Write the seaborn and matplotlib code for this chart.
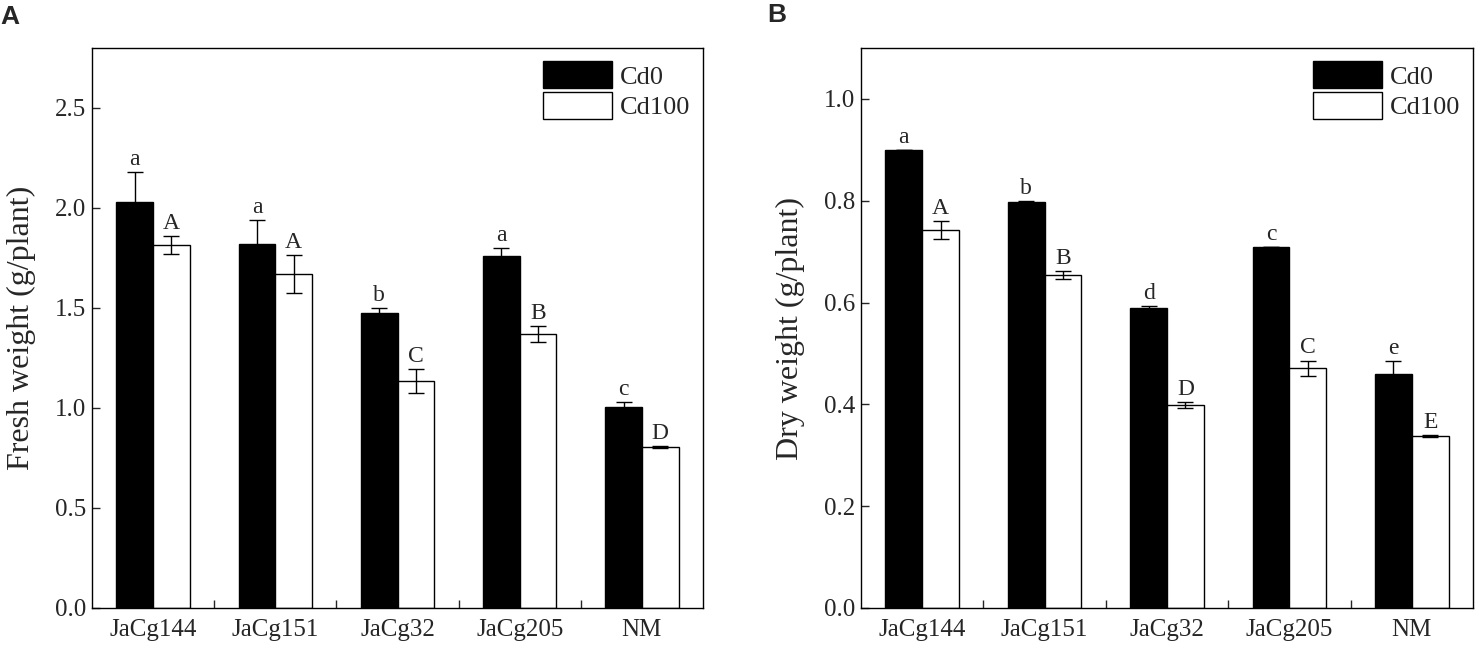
import numpy as np
import pandas as pd
import matplotlib
matplotlib.use("Agg")
import matplotlib.pyplot as plt
import seaborn as sns
from matplotlib.ticker import FixedLocator
from matplotlib.container import BarContainer

groups = ["JaCg144", "JaCg151", "JaCg32", "JaCg205", "NM"]
treatments = ["Cd0", "Cd100"]

fresh_cd0 = [2.03, 1.82, 1.475, 1.76, 1.005]
fresh_cd0_err = [0.15, 0.12, 0.025, 0.04, 0.025]
fresh_cd100 = [1.815, 1.67, 1.135, 1.37, 0.805]
fresh_cd100_err = [0.045, 0.095, 0.06, 0.04, 0.005]
fresh_letters_cd0 = ["a", "a", "b", "a", "c"]
fresh_letters_cd100 = ["A", "A", "C", "B", "D"]

dry_cd0 = [0.899, 0.797, 0.590, 0.709, 0.460]
dry_cd0_err = [0.0, 0.003, 0.004, 0.0, 0.025]
dry_cd100 = [0.742, 0.654, 0.398, 0.471, 0.337]
dry_cd100_err = [0.018, 0.008, 0.006, 0.015, 0.002]
dry_letters_cd0 = ["a", "b", "d", "c", "e"]
dry_letters_cd100 = ["A", "B", "D", "C", "E"]

fresh_ticks = [0.0, 0.5, 1.0, 1.5, 2.0, 2.5]
dry_ticks = [0.0, 0.2, 0.4, 0.6, 0.8, 1.0]

sns.set_style("ticks")
plt.rcParams["font.family"] = ["Liberation Serif", "DejaVu Serif"]
plt.rcParams["axes.linewidth"] = 1.0

W, H = 1477, 651
fig = plt.figure(figsize=(W / 100, H / 100), dpi=100)

ax_a = fig.add_axes([92 / W, 1 - 608 / H, 611 / W, 560 / H])
ax_b = fig.add_axes([861 / W, 1 - 608 / H, 612 / W, 560 / H])


def panel(ax, cd0, cd0e, cd100, cd100e, l0, l1, ylim, yticks, ylabel):
    df = pd.DataFrame({
        "group": groups * 2,
        "treatment": ["Cd0"] * len(groups) + ["Cd100"] * len(groups),
        "value": list(cd0) + list(cd100),
    })
    sns.barplot(data=df, x="group", y="value", hue="treatment",
                order=groups, hue_order=treatments,
                palette={"Cd0": "black", "Cd100": "white"},
                edgecolor="black", linewidth=1.0, width=0.6,
                errorbar=None, ax=ax, legend=False, saturation=1)
    bar_conts = [c for c in ax.containers if isinstance(c, BarContainer)]
    errs = [cd0e, cd100e]
    vals = [cd0, cd100]
    letters = [l0, l1]
    for ci, cont in enumerate(bar_conts):
        xs = [p.get_x() + p.get_width() / 2 for p in cont.patches]
        ax.errorbar(xs, vals[ci], yerr=errs[ci], fmt="none", ecolor="black",
                    elinewidth=1.0, capsize=6, capthick=1.0, zorder=5)
        for x, v, e, t in zip(xs, vals[ci], errs[ci], letters[ci]):
            ax.annotate(t, (x, v + e), xytext=(0, 1.5), textcoords="offset points",
                        ha="center", va="bottom", fontsize=17)
    ax.set_xlim(-0.5, len(groups) - 0.5)
    ax.set_ylim(*ylim)
    ax.set_yticks(yticks)
    ax.set_yticklabels([f"{t:.1f}" for t in yticks])
    ax.set_xlabel("")
    ax.set_ylabel(ylabel, fontsize=23, labelpad=14)
    ax.tick_params(axis="y", direction="in", length=6, width=1, labelsize=18, pad=4)
    ax.tick_params(axis="x", which="major", length=0, labelsize=18, pad=8)
    ax.xaxis.set_minor_locator(FixedLocator(np.arange(0.5, len(groups) - 0.5, 1.0)))
    ax.tick_params(axis="x", which="minor", direction="in", length=6, width=1)
    for s in ax.spines.values():
        s.set_visible(True)
        s.set_linewidth(1.0)
        s.set_color("black")
    handles = [c.patches[0] for c in bar_conts]
    ax.legend(handles, treatments, loc="upper right", frameon=False,
              fontsize=19, handlelength=2.6, handleheight=1.2,
              handletextpad=0.3, labelspacing=0.12, borderpad=0.3,
              borderaxespad=0.2)


panel(ax_a, fresh_cd0, fresh_cd0_err, fresh_cd100, fresh_cd100_err,
      fresh_letters_cd0, fresh_letters_cd100, (0, 2.8), fresh_ticks,
      "Fresh weight (g/plant)")
panel(ax_b, dry_cd0, dry_cd0_err, dry_cd100, dry_cd100_err,
      dry_letters_cd0, dry_letters_cd100, (0, 1.1), dry_ticks,
      "Dry weight (g/plant)")

fig.text(0 / W, 1 - 5 / H, "A", fontsize=19, fontweight="bold",
         family=["Liberation Sans", "DejaVu Sans"], ha="left", va="top")
fig.text(767 / W, 1 - 3 / H, "B", fontsize=19, fontweight="bold",
         family=["Liberation Sans", "DejaVu Sans"], ha="left", va="top")

fig.savefig("out.png", dpi=100)
